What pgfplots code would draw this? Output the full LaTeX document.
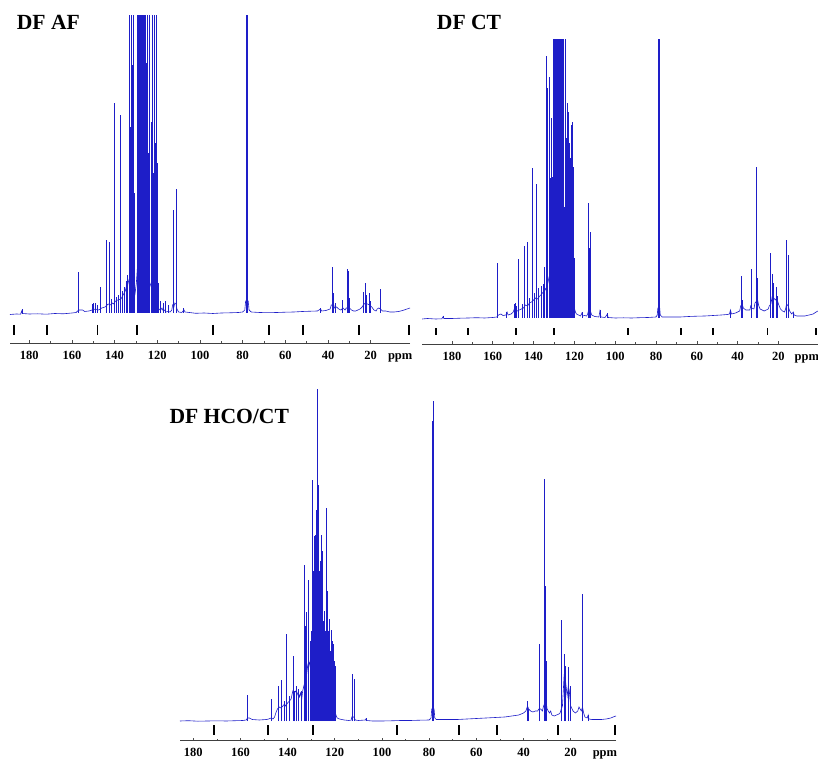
\documentclass[border=0pt]{standalone}
\usepackage{fontspec}
\setmainfont{Liberation Serif}
\usepackage{pgfplots}
\pgfplotsset{compat=1.18}
\definecolor{nmrblue}{RGB}{30,30,200}
\pgfplotsset{
  nmr/.style={
    scale only axis,
    x dir=reverse,
    axis x line=bottom,
    axis y line=none,
    ytick=\empty,
    every non boxed x axis/.append style={x axis line style={-}},
    x axis line style={-, black!75, line width=0.8pt},
    xtick={20,40,...,180},
    minor x tick num=1,
    xtick align=inside,
    major tick length=2.5pt,
    minor tick length=1.5pt,
    tick style={black!70, line width=0.6pt},
    /pgf/number format/assume math mode=true,
    xticklabel style={font=\bfseries\fontsize{12.5}{14}\selectfont, inner sep=0pt, anchor=north, text height=8.5pt, yshift=-7.5pt},
    extra x tick labels={ppm},
    extra x tick style={major tick length=0pt},
  },
  spec/.style={nmrblue, line width=0.6pt},
  comb/.style={nmrblue, line width=0.45pt, ycomb},
}
\begin{document}
\begin{tikzpicture}[x=1pt,y=1pt]
\path[use as bounding box] (0,0) rectangle (818,760);

% ---------------- DF AF ----------------
\begin{axis}[nmr, at={(10pt,417pt)}, anchor=south west, width=400pt, height=327pt,
  xmin=1.6, xmax=189, ymin=-30, ymax=297, extra x ticks={6.2}]
\addplot[spec] table {
x y
189 -1.5
186 -1
184 -1.2
183.5 2
183.2 -0.5
180 -1
176 -0.8
172 -1.2
168 -0.5
164 -0.8
160 0
158 0.5
157.3 2
156.5 3
155 3
154 1.5
152 2
150.5 3
149 4
147.5 3
146 5
144.5 6
143 9
142 8
141 10
140.5 9
139.5 12
138.5 13
137 14
136 18
135 22
134.3 28
133.8 34
133.3 30
132.5 20
131.5 15
130.5 18
129.8 30
129 55
128.3 85
127.6 96
127 90
126.3 72
125.5 55
124.7 42
123.8 32
122.8 26
121.8 22
121 18
120.3 12
119.8 6
119.2 4
118.5 2.5
117.8 5
117.2 2
116.5 3
116 1
115 1.5
114 1
113.2 3
112.8 8
112.2 6
111.8 10
111.2 9
110.8 4
110 1
108.5 0.5
107.5 3
107 1
105 0.5
102 -0.3
98 0
94 -0.5
90 0
86 0.2
82 0.5
80 1
79.0 3
78.6 12
77.4 12
77.0 3
76 1
72 0.5
68 0.3
64 0.5
60 0.8
56 1
52 1.5
48 1.8
45 2
43.5 4
43 2
41 2.5
39 4
38.5 8
37.3 8
37 5
36 6
35 4
34 3
33 5
32 3
31.5 5
30 5
29 3
28 2
27 2
26 3
25 4
24 6
23.5 8
22.5 10
21.5 9
20.5 8
19.5 6
18.5 3
17.5 2
17 4
16.2 5
15.5 4
14.5 2
13 2
11 1
9 1
7 1.5
5 2.5
3 4
1.6 5
};
\addplot[comb] table {
x y
183.4 4
156.9 41
150.5 9
149.8 10
149.0 10
148.3 8
146.7 26
143.9 73
142.5 71
141.5 14
140.0 210
139.0 16
138.5 18
137.5 198
136.4 22
135.6 26
134.7 32
134.1 38
133.0 400
132.6 186
132.3 400
131.9 248
131.4 400
131.0 120
130.6 60
129.4 400
129.1 400
128.8 400
128.5 400
128.2 400
127.9 400
127.6 400
127.3 400
127.0 400
126.7 400
126.4 400
126.1 300
125.8 400
125.3 250
124.9 400
124.2 160
123.7 400
123.0 191
122.5 400
121.9 140
121.5 400
121.1 170
120.7 400
120.2 150
119.6 30
118.8 12
117.4 10
116.3 12
114.8 8
112.7 103
112.5 60
111.3 124
111.1 80
107.7 5
78.3 400
78.0 400
77.7 400
43.7 5
38.2 16
37.9 46
37.5 20
36.8 10
33.5 13
31.1 44
30.7 42
30.3 15
23.7 21
22.8 30
22.3 18
20.7 20
20.1 12
15.7 24
15.4 10
};
\addplot[only marks, mark=|, mark size=5pt, mark options={black, line width=1.8pt}] coordinates {
(187,-17) (171.6,-17) (148,-17) (129.4,-17) (93.8,-17) (67.6,-17) (51.7,-17) (25.4,-17) (1.9,-17)};
\end{axis}

% ---------------- DF CT ----------------
\begin{axis}[nmr, at={(422pt,416pt)}, anchor=south west, width=396pt, height=304pt,
  xmin=0.6, xmax=194.7, ymin=-26, ymax=278, extra x ticks={6.1}]
\addplot[spec] table {
x y
194.7 -1
192 -0.5
188 -1
185 -0.8
184.3 1.5
184 -0.5
180 -0.5
176 -0.2
172 0
168 0.3
164 0
160 0.5
158 1
157.2 3
156 4
155 2.5
153.5 3
153 6
152.5 3
151 4
150 6
149.3 10
148.7 8
148 7
147 8
146 9
145 10
144 13
143 12
142 15
141 16
140 18
139 20
138 19
137 22
136 24
135.3 26
134.5 30
134 28
133 35
132 45
131 55
130 75
129 95
128 110
127 112
126 100
125 75
124 55
123 40
122 28
121 20
120.3 12
119.5 6
119 4
118 3
117 2
116.3 5
116 2
115 2.5
114 2
113.5 4
112.8 10
112 6
111.5 3
110 1.5
108 1
107.5 7
107 1
105 0.5
103.8 4
103.5 0.5
100 0
96 0.2
92 0
88 0.3
84 0.5
80 1
79.4 3
79.1 10
78.2 10
77.9 3
77 1
72 1
68 1
64 1.5
60 1.8
56 2
52 2.5
48 3
45 3.5
44 4
43.5 8
43 4
41 5
39 7
38.5 12
37.8 14
37.2 10
36 8
35 8
34 8
33.6 12
33.2 10
32 9
31.5 15
30.2 18
29.6 12
29 9
28 8
27 7
26 8
25 9
24.5 12
23.7 14
23 22
22.3 20
21.5 18
20.8 20
20 14
19 9
18 7
17 6
16.5 9
16 14
15.2 12
14.5 7
13.5 4
12.7 6
12.3 3
11 2
9 2
7 2
5 3
3 4
1.5 6
0.6 7
};
\addplot[comb] table {
x y
184.3 2
157.6 55
153.2 6
149.5 14
149.0 15
148.5 12
147.5 59
145.8 14
144.6 72
143.2 76
142.0 20
140.8 150
139.5 25
138.5 134
137.6 30
136.5 32
135.5 34
134.8 51
133.6 262
133.1 230
132.5 241
132.0 140
131.5 200
130.8 141
130.4 400
130.0 400
129.6 400
129.2 400
128.9 400
128.6 400
128.3 400
128.0 400
127.7 400
127.4 400
127.1 400
126.8 400
126.5 300
126.2 400
125.8 220
125.4 400
125.1 111
124.7 260
124.3 400
123.8 180
123.3 215
123.0 206
122.5 175
122.1 160
121.8 193
121.3 196
120.8 151
120.5 151
120.0 60
116.3 6
113.2 115
112.8 70
112.4 86
107.5 8
103.7 5
78.9 400
78.65 400
78.4 400
43.7 6
38.4 30
38.3 42
37.8 18
33.4 49
31.1 151
30.7 100
30.4 40
24.1 65
23.0 44
22.7 35
21.3 31
20.8 22
16.0 78
15.4 63
12.7 5
};
\addplot[only marks, mark=|, mark size=3.5pt, mark options={black, line width=1.8pt}] coordinates {
(187.8,-13.7) (172,-13.7) (148.8,-13.7) (130,-13.7) (93.9,-13.7) (67.8,-13.7) (52,-13.7) (25.4,-13.7) (1.5,-13.7)};
\end{axis}

% ---------------- DF HCO/CT ----------------
\begin{axis}[nmr, at={(180pt,20pt)}, anchor=south west, width=436pt, height=355pt,
  xmin=0.8, xmax=185.6, ymin=-19, ymax=336, extra x ticks={5.5}]
\addplot[spec] table {
x y
185.6 0
182 0.3
178 -0.2
174 0
170 0.2
166 0
162 0.3
159 0.5
157.5 1
157 3
156.2 3
155 1.5
152 1
149 1.5
148 2
147 3
146.2 2
145.5 4
145 8
144.3 12
143.5 14
142.8 13
142 15
141.3 17
140.8 15
140 18
139.2 20
138.5 22
137.8 30
137.2 28
136.5 30
136 26
135.5 29
135 24
134.5 28
134 22
133.6 30
133 36
132.5 40
132 45
131.5 55
131 60
130.5 55
130 70
129.5 85
129 95
128.5 110
128 115
127.5 110
127 100
126.5 85
126 70
125.5 60
125 55
124.5 45
124 40
123 35
122.5 30
122 28
121.5 25
121 20
120.5 16
120 10
119.5 6
119 3
118 2
116 1
114 0.5
113 1
112.8 4
112.3 4
111.9 4
111.3 1
110 0.5
107 1
106.8 2
106.5 0.5
104 0
100 0
96 0.2
92 0.5
88 0.5
84 0.8
80 1
79.2 3
78.9 12
77.9 12
77.6 3
77 1.5
72 1.5
68 1.5
64 2
60 2.5
56 3
52 3.5
48 4
45 5
42 6
40 8
39 10
38.3 15
37.8 12
37 10
36 9
35 10
34 10
33.5 12
32.7 12
32 10
31.5 15
30.5 20
30 12
29.5 10
29 8
28.5 10
28 6
27 5
26 6
25 7
24.5 8
24 12
23.5 15
22.8 45
22.2 40
21.5 25
21 35
20.6 30
20 15
19 10
18 8
17 10
16.5 14
16 12
15.5 10
15 14
14.5 8
14 4
13 3
12.6 6
12.3 2
11 1.5
9 1.5
7 1.5
5 2
3 3
1.5 4.5
0.8 5
};
\addplot[comb] table {
x y
156.9 26
146.8 22
144.0 35
142.5 41
141.6 20
140.4 87
139.5 25
137.6 65
137.0 30
136.2 35
135.3 32
134.2 30
133.0 156
132.5 95
131.9 109
131.2 141
130.6 80
130.0 90
129.4 241
129.1 150
128.8 167
128.6 185
128.4 186
128.2 170
128.0 211
127.8 190
127.6 200
127.4 332
127.2 236
127.0 180
126.8 127
126.6 150
126.3 160
126.0 120
125.6 186
125.3 170
124.9 100
124.5 110
124.2 90
123.7 213
123.3 130
122.8 90
122.3 102
121.9 70
121.3 91
120.9 80
120.6 77
120.2 60
119.9 55
112.6 47
111.8 42
106.8 3
78.6 300
78.4 320
78.2 318
38.3 20
37.8 12
33.2 77
31.1 242
30.8 135
30.4 60
24.1 101
22.7 67
22.3 55
20.9 54
20.3 35
15.3 127
15.0 50
12.6 6
};
\addplot[only marks, mark=|, mark size=5pt, mark options={black, line width=1.8pt}] coordinates {
(171.1,-9.3) (148.2,-9.3) (129.1,-9.3) (93.5,-9.3) (67.4,-9.3) (51.4,-9.3) (25.3,-9.3) (1.1,-9.3)};
\end{axis}

\node[anchor=base west, inner sep=0pt, font=\bfseries\fontsize{21.6}{24}\selectfont] at (16.7,730.7) {DF AF};
\node[anchor=base west, inner sep=0pt, font=\bfseries\fontsize{21.6}{24}\selectfont] at (436.7,730.7) {DF CT};
\node[anchor=base west, inner sep=0pt, font=\bfseries\fontsize{21.6}{24}\selectfont] at (169.3,336) {DF HCO/CT};
\end{tikzpicture}
\end{document}
